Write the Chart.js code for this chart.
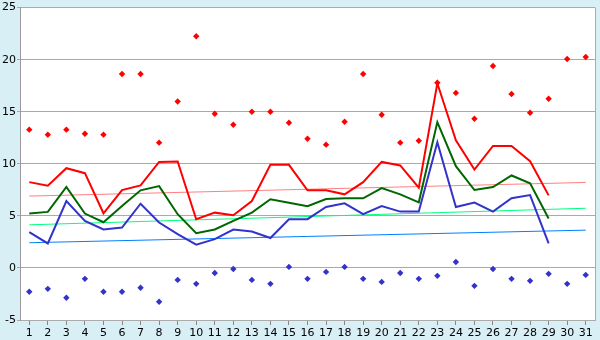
<!DOCTYPE html>
<html>
<head>
<meta charset="utf-8">
<script src="https://cdn.jsdelivr.net/npm/chart.js@4.4.1/dist/chart.umd.min.js"></script>
<style>
  html, body { margin: 0; padding: 0; background: #d9eff6; }
  #wrap { width: 600px; height: 340px; }
</style>
</head>
<body>
<div id="wrap"><canvas id="c" width="600" height="340"></canvas></div>
<script>
const days = ['1','2','3','4','5','6','7','8','9','10','11','12','13','14','15','16','17','18','19','20','21','22','23','24','25','26','27','28','29','30','31'];
const yTicks = [-5, 0, 5, 10, 15, 20, 25];

const maxLine = [8.24, 7.89, 9.58, 9.10, 5.25, 7.48, 7.93, 10.18, 10.22, 4.68, 5.31, 5.06, 6.43, 9.90, 9.90, 7.45, 7.45, 7.07, 8.24, 10.18, 9.84, 7.70, 17.73, 12.25, 9.45, 11.71, 11.71, 10.25, 6.97];
const meanLine = [5.22, 5.38, 7.77, 5.22, 4.39, 5.95, 7.45, 7.86, 5.16, 3.34, 3.69, 4.52, 5.31, 6.59, 6.27, 5.92, 6.62, 6.69, 6.69, 7.67, 7.07, 6.30, 14.0, 9.77, 7.48, 7.77, 8.88, 8.12, 4.74];
const minLine = [3.44, 2.35, 6.43, 4.52, 3.69, 3.88, 6.17, 4.36, 3.25, 2.23, 2.77, 3.69, 3.50, 2.87, 4.68, 4.68, 5.85, 6.21, 5.16, 5.95, 5.41, 5.41, 12.06, 5.85, 6.27, 5.41, 6.69, 7.00, 2.35];
const maxRecord = [13.28, 12.80, 13.28, 12.89, 12.80, 18.62, 18.62, 12.03, 15.98, 22.25, 14.80, 13.75, 15.0, 15.0, 13.94, 12.41, 11.84, 14.04, 18.62, 14.71, 12.03, 12.22, 17.79, 16.81, 14.33, 19.39, 16.71, 14.90, 16.24, 20.06, 20.25];
const minRecord = [-2.29, -2.01, -2.87, -1.05, -2.29, -2.29, -1.91, -3.25, -1.15, -1.53, -0.48, -0.10, -1.15, -1.53, 0.10, -1.05, -0.38, 0.10, -1.05, -1.34, -0.48, -1.05, -0.76, 0.57, -1.72, -0.10, -1.05, -1.24, -0.57, -1.53, -0.67];
// trend line end points (first day, last day)
const maxTrend = [6.9, 8.21];
const meanTrend = [4.14, 5.73];
const minTrend = [2.42, 3.63];

function trendSeries(ends) {
  return days.map((d, i) => i === 0 ? ends[0] : (i === days.length - 1 ? ends[1] : null));
}

const bgPlugin = {
  id: 'bg',
  beforeDraw(chart) {
    const { ctx, chartArea: a } = chart;
    ctx.save();
    ctx.fillStyle = '#d9eff6';
    ctx.fillRect(0, 0, chart.width, chart.height);
    ctx.fillStyle = '#ffffff';
    ctx.fillRect(a.left, a.top, a.right - a.left, a.bottom - a.top);
    ctx.restore();
  },
  afterDatasetsDraw(chart) {
    const { ctx, chartArea: a } = chart;
    ctx.save();
    ctx.strokeStyle = '#aaaaaa';
    ctx.lineWidth = 1;
    ctx.beginPath();
    ctx.moveTo(a.right + 0.5, a.top);
    ctx.lineTo(a.right + 0.5, a.bottom);
    ctx.stroke();
    ctx.restore();
  }
};

const lineDs = (data, color, width, order) => ({
  data, borderColor: color, backgroundColor: color, borderWidth: width,
  pointRadius: 0, fill: false, tension: 0, spanGaps: true, order
});
const ptDs = (data, color) => ({
  data, showLine: false, borderColor: color, backgroundColor: color,
  pointStyle: 'rectRot', pointRadius: 3.2, borderWidth: 0, order: 0
});

new Chart(document.getElementById('c'), {
  type: 'line',
  data: {
    labels: days,
    datasets: [
      lineDs(trendSeries(maxTrend), '#ff8080', 1, 5),
      lineDs(trendSeries(meanTrend), '#00ff80', 1, 5),
      lineDs(trendSeries(minTrend), '#0080ff', 1, 5),
      lineDs(maxLine, '#ff0000', 2, 2),
      lineDs(meanLine, '#006600', 2, 2),
      lineDs(minLine, '#3333cc', 2, 2),
      ptDs(maxRecord, '#ff0000'),
      ptDs(minRecord, '#3333cc')
    ]
  },
  options: {
    responsive: false,
    animation: false,
    devicePixelRatio: 1,
    layout: { padding: { top: 5, right: 5, left: 0, bottom: 0 } },
    plugins: { legend: { display: false }, tooltip: { enabled: false } },
    scales: {
      x: {
        type: 'category',
        offset: true,
        afterFit(s) { s.height = 20; },
        grid: { display: true, drawOnChartArea: false, drawTicks: true, tickLength: 5, color: '#888888', offset: false },
        border: { display: true, color: '#aaaaaa' },
        ticks: { color: '#000000', font: { family: 'DejaVu Sans', size: 11 }, padding: 2, maxRotation: 0, autoSkip: false }
      },
      y: {
        min: -5, max: 25,
        afterFit(s) { s.width = 20; },
        afterBuildTicks(s) { s.ticks = yTicks.map(v => ({ value: v })); },
        grid: { color: '#aaaaaa', tickLength: 3, drawTicks: true },
        border: { display: true, color: '#999999' },
        ticks: { color: '#000000', font: { family: 'DejaVu Sans', size: 11 }, padding: 1 }
      }
    }
  },
  plugins: [bgPlugin]
});
</script>
</body>
</html>
